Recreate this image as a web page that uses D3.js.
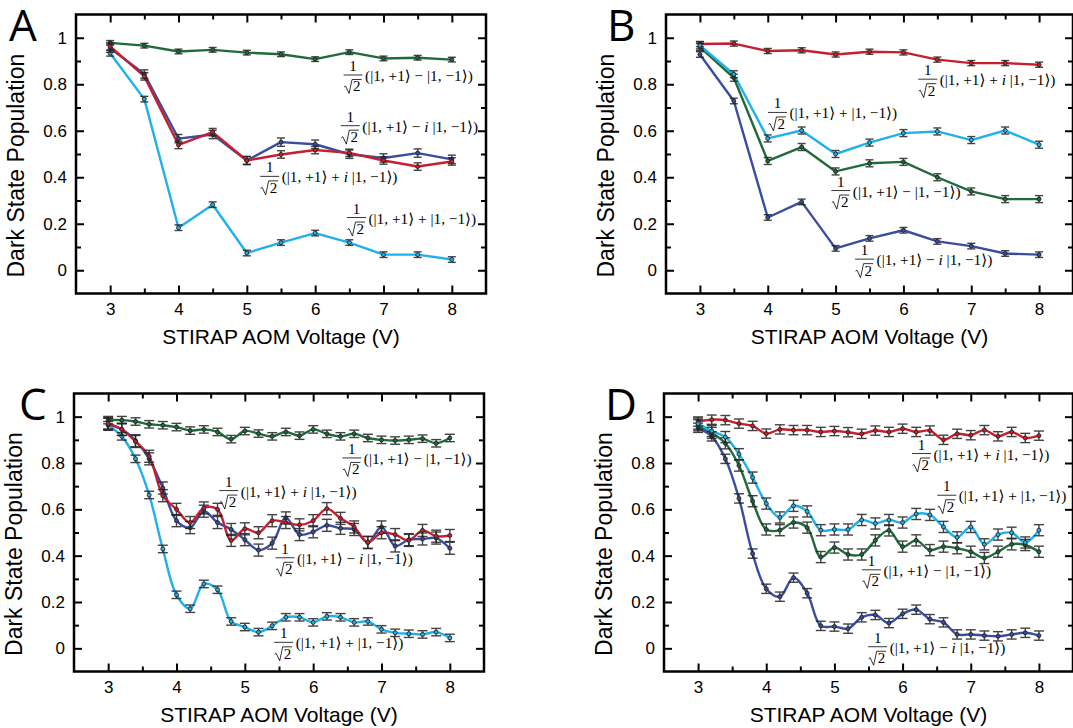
<!DOCTYPE html>
<html>
<head>
<meta charset="utf-8">
<script src="https://cdn.jsdelivr.net/npm/d3@7/dist/d3.min.js"></script>
<style>
  body { margin: 0; background: #fff; }
  svg { display: block; }
  .tick text { font-family: "Liberation Sans", Arial, sans-serif; font-size: 17px; fill: #000; }
  .tick line { stroke: #000; stroke-width: 2; }
  .math text { font-family: "Liberation Serif", "Times New Roman", "DejaVu Serif", serif; }
</style>
</head>
<body>
<svg id="chart" width="1073" height="728"></svg>
<script>
//============= DATA =============//
const voltsCoarse = [3, 3.5, 4, 4.5, 5, 5.5, 6, 6.5, 7, 7.5, 8];
const voltsFine = [3, 3.2, 3.4, 3.6, 3.8, 4, 4.2, 4.4, 4.6, 4.8, 5, 5.2, 5.4,
                   5.6, 5.8, 6, 6.2, 6.4, 6.6, 6.8, 7, 7.2, 7.4, 7.6, 7.8, 8];

// panel A
const aMinus  = [0.978, 0.966, 0.941, 0.948, 0.936, 0.929, 0.908, 0.938, 0.911, 0.914, 0.906];
const aPlusI  = [0.963, 0.834, 0.539, 0.594, 0.472, 0.498, 0.517, 0.505, 0.472, 0.446, 0.468];
const aMinusI = [0.955, 0.844, 0.566, 0.584, 0.472, 0.551, 0.542, 0.499, 0.483, 0.504, 0.477];
const aPlus   = [0.933, 0.736, 0.183, 0.282, 0.074, 0.119, 0.160, 0.119, 0.067, 0.067, 0.046];

// panel B
const bPlusI  = [0.973, 0.975, 0.943, 0.946, 0.928, 0.940, 0.937, 0.906, 0.891, 0.891, 0.884];
const bPlus   = [0.967, 0.843, 0.567, 0.601, 0.500, 0.549, 0.590, 0.597, 0.560, 0.601, 0.540];
const bMinus  = [0.960, 0.828, 0.470, 0.530, 0.425, 0.460, 0.466, 0.400, 0.339, 0.306, 0.306];
const bMinusI = [0.928, 0.728, 0.227, 0.294, 0.094, 0.137, 0.172, 0.124, 0.104, 0.072, 0.067];

// panel C
const cMinus  = [0.985, 0.985, 0.979, 0.967, 0.963, 0.955, 0.940, 0.945, 0.934, 0.903, 0.938, 0.927, 0.915,
                 0.934, 0.918, 0.945, 0.926, 0.915, 0.926, 0.908, 0.900, 0.897, 0.900, 0.905, 0.885, 0.908];
const cPlusI  = [0.970, 0.945, 0.893, 0.829, 0.659, 0.600, 0.543, 0.606, 0.600, 0.466, 0.516, 0.499, 0.551,
                 0.543, 0.533, 0.551, 0.603, 0.561, 0.524, 0.457, 0.499, 0.491, 0.466, 0.509, 0.484, 0.487];
const cMinusI = [0.967, 0.945, 0.896, 0.818, 0.692, 0.551, 0.521, 0.592, 0.543, 0.513, 0.469, 0.424, 0.454,
                 0.563, 0.491, 0.503, 0.531, 0.518, 0.513, 0.457, 0.524, 0.442, 0.469, 0.472, 0.476, 0.432];
const cPlus   = [0.963, 0.915, 0.818, 0.662, 0.429, 0.231, 0.171, 0.278, 0.253, 0.116, 0.092, 0.070, 0.097,
                 0.134, 0.134, 0.112, 0.138, 0.134, 0.112, 0.116, 0.082, 0.067, 0.063, 0.060, 0.070, 0.045];

// panel D
const dPlusI  = [0.979, 0.987, 0.985, 0.970, 0.960, 0.927, 0.945, 0.942, 0.942, 0.934, 0.938, 0.933, 0.926,
                 0.940, 0.934, 0.948, 0.934, 0.940, 0.900, 0.926, 0.920, 0.942, 0.915, 0.934, 0.908, 0.918];
const dPlus   = [0.970, 0.938, 0.912, 0.838, 0.737, 0.625, 0.565, 0.615, 0.591, 0.510, 0.513, 0.513, 0.554,
                 0.539, 0.554, 0.543, 0.580, 0.576, 0.524, 0.479, 0.524, 0.449, 0.491, 0.499, 0.457, 0.510];
const dMinus  = [0.963, 0.930, 0.885, 0.789, 0.635, 0.513, 0.510, 0.543, 0.521, 0.394, 0.435, 0.405, 0.405,
                 0.466, 0.509, 0.439, 0.466, 0.424, 0.439, 0.432, 0.417, 0.390, 0.417, 0.449, 0.446, 0.417];
const dMinusI = [0.952, 0.915, 0.818, 0.647, 0.409, 0.257, 0.223, 0.305, 0.238, 0.097, 0.094, 0.085, 0.134,
                 0.144, 0.109, 0.149, 0.167, 0.126, 0.112, 0.060, 0.060, 0.055, 0.052, 0.060, 0.067, 0.055];

// error bar half heights (estimated, one per series)
const errA = {minus: 0.010, plusI: 0.016, minusI: 0.018, plus: 0.012};
const errB = {minus: 0.015, plusI: 0.011, minusI: 0.012, plus: 0.015};
const errC = {minus: 0.016, plusI: 0.026, minusI: 0.026, plus: 0.016};
const errD = {minus: 0.024, plusI: 0.020, minusI: 0.020, plus: 0.024};

const xMajor = [3, 4, 5, 6, 7, 8];
const xMinor = [3.5, 4.5, 5.5, 6.5, 7.5];
const yMajor = [0, 0.2, 0.4, 0.6, 0.8, 1];
const yMinor = [0.1, 0.3, 0.5, 0.7, 0.9];

const colors = {minus: "#1f6b3b", plusI: "#c6202f", minusI: "#3a4d9f", plus: "#1fb1e8"};

//============= PANELS =============//
const panels = [
  {name: "A", left: 76, top: 14.5, width: 410, height: 279, volts: voltsCoarse, err: errA, cap: 4, smooth: false,
   series: [["minus", aMinus], ["plus", aPlus], ["minusI", aMinusI], ["plusI", aPlusI]],
   labels: [["minus", 6.73, 0.814], ["minusI", 6.69, 0.596], ["plusI", 5.51, 0.378], ["plus", 6.78, 0.201]]},
  {name: "B", left: 666, top: 14.5, width: 407, height: 279, volts: voltsCoarse, err: errB, cap: 4, smooth: false,
   series: [["plusI", bPlusI], ["minusI", bMinusI], ["minus", bMinus], ["plus", bPlus]],
   labels: [["plusI", 6.535, 0.796], ["plus", 4.32, 0.653], ["minus", 5.254, 0.317], ["minusI", 5.604, 0.022]]},
  {name: "C", left: 74, top: 393.5, width: 410, height: 278, volts: voltsFine, err: errC, cap: 5, smooth: true,
   series: [["minus", cMinus], ["plus", cPlus], ["minusI", cMinusI], ["plusI", cPlusI]],
   labels: [["minus", 6.742, 0.796], ["plusI", 4.941, 0.655], ["minusI", 5.763, 0.365], ["plus", 5.744, 0.0]]},
  {name: "D", left: 664, top: 393.5, width: 409, height: 278, volts: voltsFine, err: errD, cap: 5, smooth: true,
   series: [["plusI", dPlusI], ["minusI", dMinusI], ["minus", dMinus], ["plus", dPlus]],
   labels: [["plusI", 6.454, 0.815], ["plus", 6.824, 0.635], ["minus", 5.719, 0.313], ["minusI", 5.81, -0.019]]}
];

const svg = d3.select("#chart");
const fmtY = d => d === 0 ? "0" : d === 1 ? "1" : d3.format(".1f")(d);

// 1/sqrt(2) (|1,+1> ... |1,-1>) written with plain svg text
function drawLabel(g, kind, px, py) {
  const lab = g.append("g").attr("class", "math").attr("transform", `translate(${px},${py})`)
      .attr("fill", "#000");
  const fx = -12;
  lab.append("text").attr("x", fx).attr("y", -10).attr("text-anchor", "middle")
      .style("font-size", "15px").text("1");
  lab.append("line").attr("x1", fx - 9.5).attr("x2", fx + 9.5).attr("y1", -6).attr("y2", -6)
      .attr("stroke", "#000").attr("stroke-width", 0.8);
  lab.append("path")
      .attr("d", `M${fx - 9},${6} L${fx - 7.5},${5} L${fx - 4},${12.5} L${fx - 1},${-1.5} L${fx + 8.5},${-1.5}`)
      .attr("fill", "none").attr("stroke", "#000").attr("stroke-width", 0.8);
  lab.append("text").attr("x", fx + 3.8).attr("y", 10.5).attr("text-anchor", "middle")
      .style("font-size", "15px").text("2");

  const t = lab.append("text").attr("x", 0).attr("y", 0).style("font-size", "15.3px");
  const op = (kind === "minus" || kind === "minusI") ? " \u2212 " : " + ";
  t.append("tspan").text("(|1, +1\u27E9" + op);
  if (kind === "plusI" || kind === "minusI") {
    t.append("tspan").style("font-style", "italic").text("i");
    t.append("tspan").text(" ");
  }
  t.append("tspan").text("|1, \u22121\u27E9)");
}

panels.forEach(p => {
  const g = svg.append("g").attr("transform", `translate(${p.left},${p.top})`);
  const x = d3.scaleLinear().domain([2.5, 8.5]).range([0, p.width]);
  const y = d3.scaleLinear().domain([-0.1, 1.1]).range([p.height, 0]);

  // axes with inward ticks on all four sides
  const addAxis = (axis, tx, ty) => {
    const a = g.append("g").attr("transform", `translate(${tx},${ty})`).call(axis);
    a.select(".domain").remove();
    return a;
  };
  addAxis(d3.axisBottom(x).tickValues(xMajor).tickSize(-8).tickPadding(9).tickFormat(d3.format("d")), 0, p.height);
  addAxis(d3.axisBottom(x).tickValues(xMinor).tickSize(-5).tickFormat(""), 0, p.height);
  addAxis(d3.axisTop(x).tickValues(xMajor).tickSize(-8).tickFormat(""), 0, 0);
  addAxis(d3.axisTop(x).tickValues(xMinor).tickSize(-5).tickFormat(""), 0, 0);
  addAxis(d3.axisLeft(y).tickValues(yMajor).tickSize(-8).tickPadding(9).tickFormat(fmtY), 0, 0);
  addAxis(d3.axisLeft(y).tickValues(yMinor).tickSize(-5).tickFormat(""), 0, 0);
  addAxis(d3.axisRight(y).tickValues(yMajor).tickSize(-8).tickFormat(""), p.width, 0);
  addAxis(d3.axisRight(y).tickValues(yMinor).tickSize(-5).tickFormat(""), p.width, 0);

  g.append("rect").attr("width", p.width).attr("height", p.height)
      .attr("fill", "none").attr("stroke", "#000").attr("stroke-width", 2.5);

  const line = d3.line()
      .x(d => x(d[0])).y(d => y(d[1]))
      .curve(p.smooth ? d3.curveCatmullRom.alpha(0.5) : d3.curveLinear);

  // lines
  p.series.forEach(([kind, vals]) => {
    const pts = vals.map((v, i) => [p.volts[i], v]);
    g.append("path").datum(pts).attr("d", line)
        .attr("fill", "none").attr("stroke", colors[kind]).attr("stroke-width", 2.4)
        .attr("stroke-linejoin", "round");
  });
  // error bars and markers
  p.series.forEach(([kind, vals]) => {
    const pts = vals.map((v, i) => [p.volts[i], v]);
    const e = p.err[kind];
    const eb = g.append("g").attr("stroke", "#222").attr("stroke-width", 1.4).attr("opacity", 0.85);
    eb.selectAll("line.v").data(pts).join("line").attr("class", "v")
        .attr("x1", d => x(d[0])).attr("x2", d => x(d[0]))
        .attr("y1", d => y(d[1] - e)).attr("y2", d => y(d[1] + e));
    [-1, 1].forEach(s => {
      eb.selectAll("line.c" + (s + 1)).data(pts).join("line").attr("class", "c" + (s + 1))
          .attr("x1", d => x(d[0]) - p.cap).attr("x2", d => x(d[0]) + p.cap)
          .attr("y1", d => y(d[1] + s * e)).attr("y2", d => y(d[1] + s * e));
    });
    g.append("g").selectAll("circle").data(pts).join("circle")
        .attr("cx", d => x(d[0])).attr("cy", d => y(d[1])).attr("r", 2)
        .attr("fill", colors[kind]).attr("stroke", "#222").attr("stroke-width", 0.9);
  });

  // state labels
  p.labels.forEach(([kind, lx, ly]) => drawLabel(g, kind, x(lx), y(ly)));

  // axis titles
  g.append("text").attr("x", p.width / 2).attr("y", p.height + 50).attr("text-anchor", "middle")
      .attr("font-family", "Liberation Sans, Arial, sans-serif").attr("font-size", 21)
      .text("STIRAP AOM Voltage (V)");
  g.append("text").attr("transform", `translate(-52,${y(0.45)}) rotate(-90)`).attr("text-anchor", "middle")
      .attr("font-family", "Liberation Sans, Arial, sans-serif").attr("font-size", 23)
      .text("Dark State Population");

  // panel letter
  svg.append("text").attr("x", p.left - (p.name === "A" ? 67 : p.name === "C" ? 55 : 59))
      .attr("y", p.top + 26).attr("font-family", "Open Sans, Noto Sans, sans-serif")
      .attr("font-size", 44).text(p.name);
});
</script>
</body>
</html>
